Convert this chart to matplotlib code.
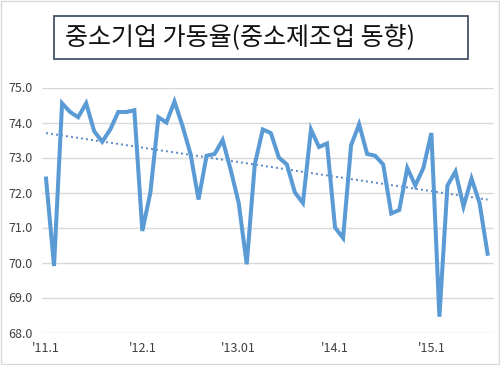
#!/usr/bin/env python
import numpy as np
import matplotlib
matplotlib.use('Agg')
import matplotlib.pyplot as plt
from matplotlib.patches import Rectangle

plt.rcParams['font.family'] = ['Noto Sans CJK KR', 'DejaVu Sans']

TITLE = '중소기업 가동율(중소제조업 동향)'
TICK_POS = [0, 12, 24, 36, 48]
TICK_LABELS = ["'11.1", "'12.1", "'13.01", "'14.1", "'15.1"]

# monthly utilisation rate, 2011.1 - 2015.8
rate = [72.4, 69.9, 74.55, 74.3, 74.15, 74.55, 73.75, 73.45, 73.8, 74.3,
        74.3, 74.35, 70.9, 72.0, 74.15, 74.0, 74.6, 73.9, 73.1, 71.8,
        73.05, 73.1, 73.5, 72.65, 71.7, 69.95, 72.8, 73.8, 73.7, 73.0,
        72.8, 72.0, 71.7, 73.8, 73.3, 73.4, 71.0, 70.7, 73.35, 73.95,
        73.1, 73.05, 72.8, 71.4, 71.5, 72.7, 72.2, 72.7, 73.7, 68.45,
        72.2, 72.6, 71.6, 72.4, 71.7, 70.25]

BLUE = '#5B9BD5'
GRID = '#D9D9D9'
TEXT = '#404040'


def main():
	x = np.arange(len(rate))
	slope, icpt = np.polyfit(x, rate, 1)

	fig = plt.figure(figsize=(5, 3.65), dpi=100)
	ax = fig.add_axes([42 / 500, 1 - 332.5 / 365, 452 / 500, 245 / 365])
	ax.plot(x, rate, color=BLUE, lw=2.9, solid_joinstyle='miter', zorder=3)
	ax.plot(x, slope * x + icpt, color='#5A8AC6', lw=1.4, ls=(0, (1, 1.6)), zorder=2)

	ax.set_ylim(68, 75)
	ax.set_xlim(-0.5, 55.8)
	ax.set_yticks(np.arange(68, 75.1, 1))
	ax.set_yticklabels(['%.1f' % v for v in np.arange(68, 75.1, 1)])
	ax.set_xticks(TICK_POS)
	ax.set_xticklabels(TICK_LABELS)
	ax.grid(axis='y', color=GRID, lw=1)
	ax.set_axisbelow(True)
	for s in ax.spines.values():
		s.set_visible(False)
	ax.tick_params(length=0, labelsize=9, colors=TEXT, pad=7)
	ax.tick_params(axis='y', pad=7)

	# title box
	fig.patches.append(Rectangle((54 / 500, 1 - 59 / 365), 414 / 500, 43 / 365,
		transform=fig.transFigure, fill=False, edgecolor='#44546A', lw=1.3))
	fig.text(65 / 500, 1 - 38 / 365, TITLE, fontsize=18, fontweight='medium',
		color='#111111', ha='left', va='center')
	# outer frame
	fig.patches.append(Rectangle((0.002, 0.003), 0.995, 0.994,
		transform=fig.transFigure, fill=False, edgecolor=GRID, lw=1))

	fig.savefig('out.png', dpi=100)


if __name__ == '__main__':
	main()
